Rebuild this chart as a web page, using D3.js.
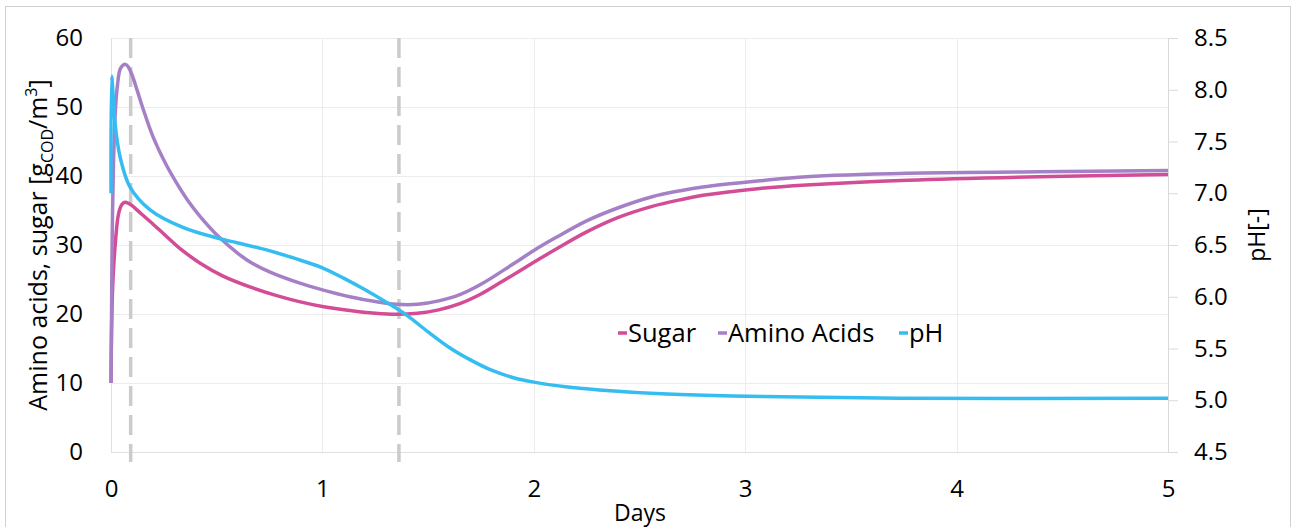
<!DOCTYPE html>
<html>
<head>
<meta charset="utf-8">
<script src="https://cdn.jsdelivr.net/npm/d3@7"></script>
<style>
  html, body { margin: 0; padding: 0; background: #fff; }
  svg text { font-family: "Open Sans", sans-serif; fill: #000; }
</style>
</head>
<body>
<svg id="chart" width="1297" height="527"></svg>
<script>
// Time axis (days) and simulated concentrations
const sugarDays = [0, 0.003, 0.008, 0.019, 0.035, 0.05, 0.066, 0.085, 0.1, 0.14, 0.185, 0.25, 0.33, 0.42, 0.53, 0.66, 0.78, 0.89, 1.0, 1.13, 1.25, 1.35, 1.45, 1.55, 1.65, 1.75, 1.85, 2.0, 2.1, 2.25, 2.4, 2.56, 2.7, 2.8, 3.07, 3.29, 3.77, 4.39, 5];
const sugar     = [10, 18, 24, 29.7, 34.4, 35.8, 36.2, 36.0, 35.7, 34.6, 33.4, 31.6, 29.4, 27.4, 25.5, 23.9, 22.7, 21.8, 21.1, 20.5, 20.1, 19.95, 20.1, 20.6, 21.5, 22.9, 24.7, 27.5, 29.3, 31.9, 34.0, 35.6, 36.6, 37.2, 38.2, 38.7, 39.4, 39.9, 40.2];

const aminoDays = [0, 0.003, 0.006, 0.012, 0.02, 0.03, 0.045, 0.066, 0.08, 0.1, 0.125, 0.15, 0.2, 0.26, 0.31, 0.36, 0.42, 0.516, 0.6, 0.66, 0.75, 0.89, 1.0, 1.13, 1.25, 1.35, 1.45, 1.55, 1.65, 1.75, 1.9, 2.0, 2.1, 2.25, 2.4, 2.56, 2.7, 2.8, 3.07, 3.29, 3.77, 4.39, 5];
const aminoAcids = [10, 22, 32, 42, 49, 53, 55.6, 56.2, 55.9, 54.6, 52.3, 49.9, 45.6, 41.7, 39.0, 36.6, 34.2, 31.0, 28.8, 27.5, 26.1, 24.5, 23.5, 22.5, 21.8, 21.4, 21.4, 21.9, 22.8, 24.3, 27.2, 29.2, 31.0, 33.5, 35.4, 37.0, 37.9, 38.4, 39.3, 39.9, 40.4, 40.6, 40.8];

const phDays = [0, 0.003, 0.01, 0.019, 0.043, 0.09, 0.185, 0.34, 0.516, 0.6, 0.74, 0.87, 1.0, 1.1, 1.2, 1.3, 1.4, 1.5, 1.6, 1.7, 1.8, 1.9, 2.0, 2.15, 2.31, 2.63, 2.94, 3.73, 5];
const ph     = [7.0, 8.13, 7.95, 7.68, 7.35, 7.06, 6.84, 6.67, 6.56, 6.52, 6.45, 6.37, 6.28, 6.18, 6.07, 5.95, 5.82, 5.66, 5.51, 5.39, 5.29, 5.22, 5.175, 5.13, 5.10, 5.06, 5.04, 5.02, 5.02];

// Phase boundaries (days)
const phaseMarks = [0.093, 1.362];

const xTicks = [0, 1, 2, 3, 4, 5];
const leftTicks = [0, 10, 20, 30, 40, 50, 60];
const rightTicks = [4.5, 5.0, 5.5, 6.0, 6.5, 7.0, 7.5, 8.0, 8.5];

const seriesNames = ["Sugar", "Amino Acids", "pH"];
const colors = { "Sugar": "#d24d96", "Amino Acids": "#a680c6", "pH": "#35bdf2" };

const svg = d3.select("#chart");
const m = { left: 111, right: 1168, top: 38, bottom: 452 };

const x = d3.scaleLinear().domain([0, 5]).range([m.left, m.right]);
const yL = d3.scaleLinear().domain([0, 60]).range([m.bottom, m.top]);
const yR = d3.scaleLinear().domain([4.5, 8.5]).range([m.bottom, m.top]);

// outer frame
svg.append("rect")
  .attr("x", 5.5).attr("y", 6.5).attr("width", 1285).attr("height", 540)
  .attr("fill", "none").attr("stroke", "#d0d0d0").attr("stroke-width", 1);

// gridlines
const grid = svg.append("g");
grid.selectAll("line.h").data(leftTicks.slice(1)).join("line")
  .attr("x1", m.left).attr("x2", m.right)
  .attr("y1", d => Math.round(yL(d)) + 0.5).attr("y2", d => Math.round(yL(d)) + 0.5)
  .attr("stroke", "#ececec").attr("stroke-width", 1);
grid.selectAll("line.v").data(xTicks.slice(1, 5)).join("line")
  .attr("x1", d => Math.round(x(d)) + 0.5).attr("x2", d => Math.round(x(d)) + 0.5)
  .attr("y1", m.top).attr("y2", m.bottom)
  .attr("stroke", "#ececec").attr("stroke-width", 1);

// axis lines
svg.append("line").attr("x1", m.left + 0.5).attr("x2", m.left + 0.5)
  .attr("y1", m.top).attr("y2", m.bottom).attr("stroke", "#e0e0e0");
svg.append("line").attr("x1", m.left).attr("x2", m.right)
  .attr("y1", m.bottom + 0.5).attr("y2", m.bottom + 0.5).attr("stroke", "#e0e0e0");

// left axis labels
const leftAxis = d3.axisLeft(yL).tickValues(leftTicks).tickSize(0).tickPadding(28);
const gL = svg.append("g").attr("transform", `translate(${m.left},0)`).call(leftAxis);
gL.select(".domain").remove();
gL.selectAll("text").style("font-size", "24px").style("font-family", "'Open Sans', sans-serif").attr("fill", "#000");

// right axis
const rightAxis = d3.axisRight(yR).tickValues(rightTicks).tickSize(10).tickPadding(16).tickFormat(d3.format(".1f"));
const gR = svg.append("g").attr("transform", `translate(${m.right},0)`).call(rightAxis);
gR.select(".domain").attr("stroke", "#d9d9d9").attr("d", `M0.5,${m.top}V${m.bottom}`);
gR.selectAll(".tick line").attr("stroke", "#d9d9d9");
gR.selectAll("text").style("font-size", "24px").style("font-family", "'Open Sans', sans-serif").attr("fill", "#000");

// bottom axis
const bottomAxis = d3.axisBottom(x).tickValues(xTicks).tickSize(0).tickPadding(28).tickFormat(d3.format("d"));
const gB = svg.append("g").attr("transform", `translate(0,${m.bottom})`).call(bottomAxis);
gB.select(".domain").remove();
gB.selectAll("text").style("font-size", "24px").style("font-family", "'Open Sans', sans-serif").attr("fill", "#000");

// phase boundary lines
svg.selectAll("line.phase").data(phaseMarks).join("line")
  .attr("x1", d => x(d)).attr("x2", d => x(d))
  .attr("y1", m.top).attr("y2", m.bottom + 10)
  .attr("stroke", "#cbcbcb").attr("stroke-width", 3.5)
  .attr("stroke-dasharray", "20,9");

// series
const curve = d3.curveCatmullRom.alpha(0.5);
const lineL = d3.line().x(d => x(d[0])).y(d => yL(d[1])).curve(curve);
const lineR = d3.line().x(d => x(d[0])).y(d => yR(d[1])).curve(curve);

svg.append("path").datum(d3.zip(sugarDays, sugar))
  .attr("d", lineL).attr("fill", "none").attr("stroke", colors["Sugar"]).attr("stroke-width", 3.5);
svg.append("path").datum(d3.zip(aminoDays, aminoAcids))
  .attr("d", lineL).attr("fill", "none").attr("stroke", colors["Amino Acids"]).attr("stroke-width", 3.5);
svg.append("path").datum(d3.zip(phDays, ph))
  .attr("d", lineR).attr("fill", "none").attr("stroke", colors["pH"]).attr("stroke-width", 3.5);

// legend
const legendX = [618, 718, 899];
const lg = svg.append("g");
seriesNames.forEach((name, i) => {
  lg.append("line").attr("x1", legendX[i]).attr("x2", legendX[i] + 9)
    .attr("y1", 333).attr("y2", 333)
    .attr("stroke", colors[name]).attr("stroke-width", 3.5);
  lg.append("text").attr("x", legendX[i] + 10).attr("y", 342)
    .style("font-size", "25.5px").text(name);
});

// axis titles
const yTitle = svg.append("text")
  .attr("transform", "translate(47,245) rotate(-90)")
  .attr("text-anchor", "middle")
  .style("font-size", "25px");
yTitle.append("tspan").text("Amino acids, sugar [g");
yTitle.append("tspan").attr("dy", 6).style("font-size", "16px").text("COD");
yTitle.append("tspan").attr("dy", -6).text("/m");
yTitle.append("tspan").attr("dy", -10).style("font-size", "16px").text("3");
yTitle.append("tspan").attr("dy", 10).text("]");

svg.append("text")
  .attr("transform", "translate(1265,235) rotate(-90)")
  .attr("text-anchor", "middle")
  .style("font-size", "23px")
  .text("pH[-]");

svg.append("text")
  .attr("x", 640).attr("y", 521)
  .attr("text-anchor", "middle")
  .style("font-size", "23px")
  .text("Days");
</script>
</body>
</html>
